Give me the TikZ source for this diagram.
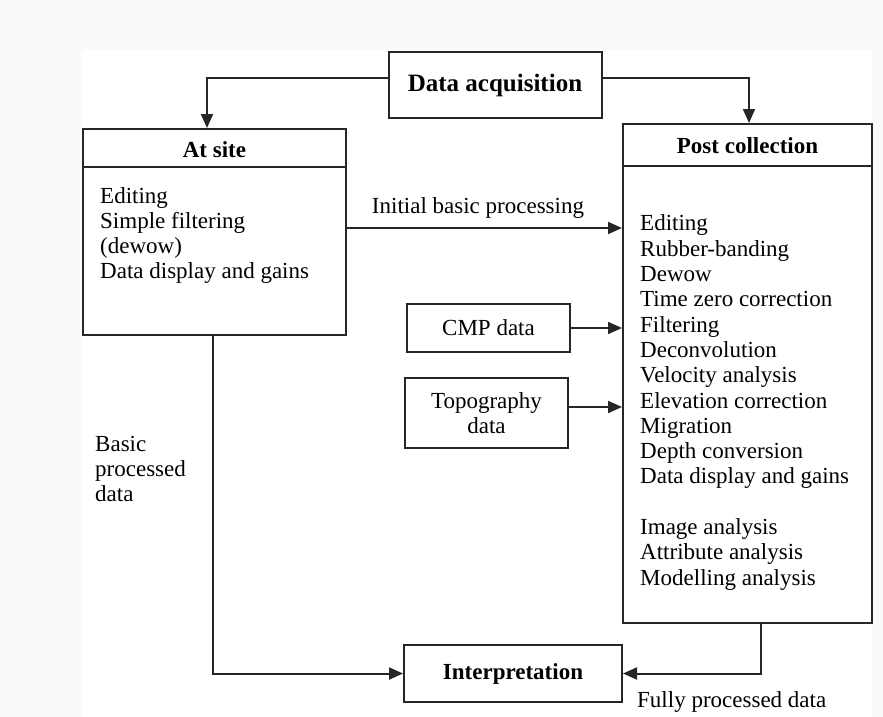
\documentclass[tikz,border=0pt]{standalone}
\usepackage{fontspec}
\setmainfont{Liberation Serif}
\usetikzlibrary{arrows.meta}

\begin{document}
\begin{tikzpicture}[x=1pt,y=-1pt,
  box/.style={draw=black!85, line width=2pt, inner sep=0pt},
  txt/.style={inner sep=0pt, align=left, font=\fontsize{23}{25.3}\selectfont},
  head/.style={inner sep=0pt, font=\bfseries\fontsize{23}{25}\selectfont},
  wire/.style={draw=black!85, line width=2pt},
  conn/.style={draw=black!85, line width=2pt, -{Triangle[length=14pt,width=12pt]}}]

% canvas
\useasboundingbox (0,0) rectangle (883,717);
\fill[black!2] (0,0) rectangle (883,717);
\fill[white] (83,50) rectangle (872,717);

% boxes
\node[box, head, font=\bfseries\fontsize{25}{27}\selectfont,
      minimum width=213pt, minimum height=66pt] (acq) at (495,85) {Data acquisition};
\node[box, minimum width=263pt, minimum height=206pt] (site) at (214.5,232) {};
\node[box, minimum width=249pt, minimum height=499pt] (post) at (747.5,373.5) {};
\node[box, txt, minimum width=163pt, minimum height=48pt] (cmp) at (488.5,328) {CMP data};
\node[box, txt, align=center, minimum width=163pt, minimum height=70pt] (topo) at (486.5,413) {Topography\\data};
\node[box, head, minimum width=218pt, minimum height=57pt] (interp) at (513,673.5) {Interpretation};

% header bars
\draw[wire] ([yshift=-39pt]site.north west) -- ([yshift=-39pt]site.north east);
\draw[wire] ([yshift=-43pt]post.north west) -- ([yshift=-43pt]post.north east);
\node[head] (sitehead) at (214.5,150) {At site};
\node[head] (posthead) at (747.5,146) {Post collection};

% box contents
\node[txt, anchor=west] (sitelist) at (100,235.5)
  {Editing\\Simple filtering\\(dewow)\\Data display and gains};
\node[txt, anchor=west] (postlist) at (640,402.5)
  {Editing\\Rubber-banding\\Dewow\\Time zero correction\\Filtering\\Deconvolution\\
   Velocity analysis\\Elevation correction\\Migration\\Depth conversion\\
   Data display and gains\\[25.3pt]Image analysis\\Attribute analysis\\Modelling analysis};

% connectors
\draw[conn] ([yshift=7pt]acq.west) -| ([xshift=-7.5pt]site.north);
\draw[conn] ([yshift=7pt]acq.east) -| ([xshift=1.5pt]post.north);

\path ([yshift=4pt]site.east) coordinate (ibp);
\draw[conn] (ibp) -- (ibp -| post.west);
\node[txt] (ibplabel) at (478,208) {Initial basic processing};

\draw[conn] (cmp.east) -- (cmp.east -| post.west);
\path ([yshift=6pt]topo.east) coordinate (tp);
\draw[conn] (tp) -- (tp -| post.west);

\draw[conn] ([xshift=-1.5pt]site.south) |- (interp.west);
\node[txt, anchor=west] (bpd) at (95,469) {Basic\\processed\\data};

\draw[conn] ([xshift=13.5pt]post.south) |- (interp.east);
\node[txt, anchor=west] (fpd) at (637,702) {Fully processed data};

\end{tikzpicture}
\end{document}
